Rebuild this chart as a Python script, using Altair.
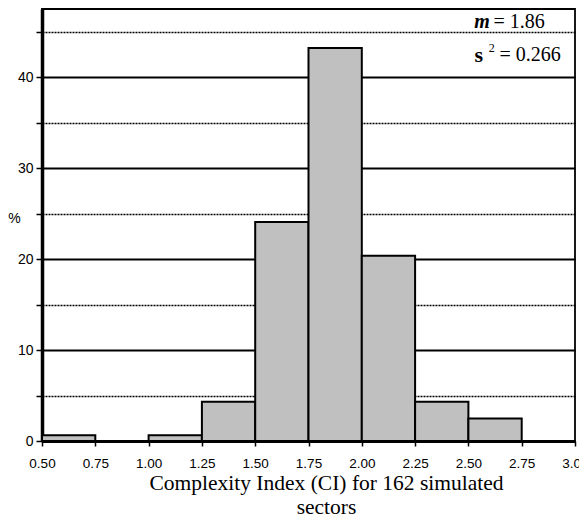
import altair as alt
import pandas as pd

bin_start = [0.50, 0.75, 1.00, 1.25, 1.50, 1.75, 2.00, 2.25, 2.50, 2.75]
bin_end = [0.75, 1.00, 1.25, 1.50, 1.75, 2.00, 2.25, 2.50, 2.75, 3.00]
percent = [0.62, 0.0, 0.62, 4.32, 24.07, 43.21, 20.37, 4.32, 2.47, 0.0]

x_ticks = [0.5 + 0.125 * i for i in range(21)]
y_ticks = [0, 5, 10, 15, 20, 25, 30, 35, 40, 45]

df = pd.DataFrame({"start": bin_start, "end": bin_end, "pct": percent})
df = df[df["pct"] > 0]

x_scale = alt.Scale(domain=[0.5, 3.0], nice=False, zero=False)
y_scale = alt.Scale(domain=[0, 47.5], nice=False)

x_axis = alt.Axis(
    values=x_ticks,
    labelExpr="(datum.value * 4) % 1 == 0 ? format(datum.value, '.2f') : ''",
    labelFont="Liberation Sans Narrow, Arial Narrow, Liberation Sans",
    labelFontSize=13.5,
    labelColor="black",
    labelPadding=10,
    labelOverlap=False,
    labelFlush=False,
    tickColor="black",
    tickWidth=1.5,
    tickSize=5,
    domainColor="black",
    domainWidth=3,
    grid=False,
    title=["Complexity Index (CI) for 162 simulated", "sectors"],
    titleFont="Liberation Serif",
    titleFontSize=21.5,
    titleFontWeight="normal",
    titleColor="black",
    titleLineHeight=24,
    titleX=284,
    titleY=31,
    titleBaseline="top",
    titleAlign="center",
)

y_axis = alt.Axis(
    values=y_ticks,
    labelExpr="datum.value % 10 == 0 ? format(datum.value, 'd') : ''",
    labelFont="Liberation Sans",
    labelFontSize=14,
    labelColor="black",
    labelPadding=3,
    tickColor="black",
    tickWidth=1.5,
    tickSize=6,
    domainColor="black",
    domainWidth=3.5,
    grid=True,
    gridColor="black",
    gridWidth={"condition": {"test": "datum.value % 10 == 0", "value": 1.8}, "value": 1.3},
    gridDash={"condition": {"test": "datum.value % 10 == 0", "value": []}, "value": [2, 1]},
    title="%",
    titleFont="Liberation Sans",
    titleFontSize=14,
    titleFontWeight="normal",
    titleColor="black",
    titleAngle=0,
    titleX=-28,
    titleY=209,
    titleAlign="center",
    titleBaseline="middle",
)

bars = alt.Chart(df).mark_bar(
    fill="#c0c0c0", stroke="black", strokeWidth=2
).encode(
    x=alt.X("start:Q", scale=x_scale, axis=x_axis),
    x2="end:Q",
    y=alt.Y("pct:Q", scale=y_scale, axis=y_axis),
    y2=alt.datum(0),
)

# annotation texts (placed in data coordinates)
sym_txt = ["m", "s"]
sym_x = [2.601, 2.569]
sym_y = [46.1, 42.4]
sup_txt = ["2"]
sup_x = [2.596]
sup_y = [43.2]
val_txt = ["= 1.86", "= 0.266"]
val_x = [2.618, 2.646]
val_y = [46.1, 42.4]

sym_df = pd.DataFrame({"t": sym_txt, "x": sym_x, "y": sym_y})
sym_m = alt.Chart(sym_df.iloc[[0]]).mark_text(
    font="Liberation Serif", fontSize=20, fontWeight="bold", fontStyle="italic",
    align="right", baseline="middle", color="black"
).encode(x=alt.X("x:Q", scale=x_scale), y=alt.Y("y:Q", scale=y_scale), text="t:N")
sym_s = alt.Chart(sym_df.iloc[[1]]).mark_text(
    font="Liberation Serif", fontSize=22, fontWeight="bold",
    align="right", baseline="middle", color="black"
).encode(x=alt.X("x:Q", scale=x_scale), y=alt.Y("y:Q", scale=y_scale), text="t:N")
sup = alt.Chart(pd.DataFrame({"t": sup_txt, "x": sup_x, "y": sup_y})).mark_text(
    font="Liberation Serif", fontSize=12, align="left", baseline="middle", color="black"
).encode(x=alt.X("x:Q", scale=x_scale), y=alt.Y("y:Q", scale=y_scale), text="t:N")
vals = alt.Chart(pd.DataFrame({"t": val_txt, "x": val_x, "y": val_y})).mark_text(
    font="Liberation Serif", fontSize=20, align="left", baseline="middle", color="black"
).encode(x=alt.X("x:Q", scale=x_scale), y=alt.Y("y:Q", scale=y_scale), text="t:N")

chart = alt.layer(bars, sym_m, sym_s, sup, vals).properties(
    width=533,
    height=432,
    padding={"left": 34, "top": 1, "right": 4, "bottom": 80},
    autosize=alt.AutoSizeParams(type="none"),
    background="white",
).configure_view(
    stroke="black", strokeWidth=1.8
)

chart.save("out.html", embed_options={"renderer": "svg", "actions": False})
